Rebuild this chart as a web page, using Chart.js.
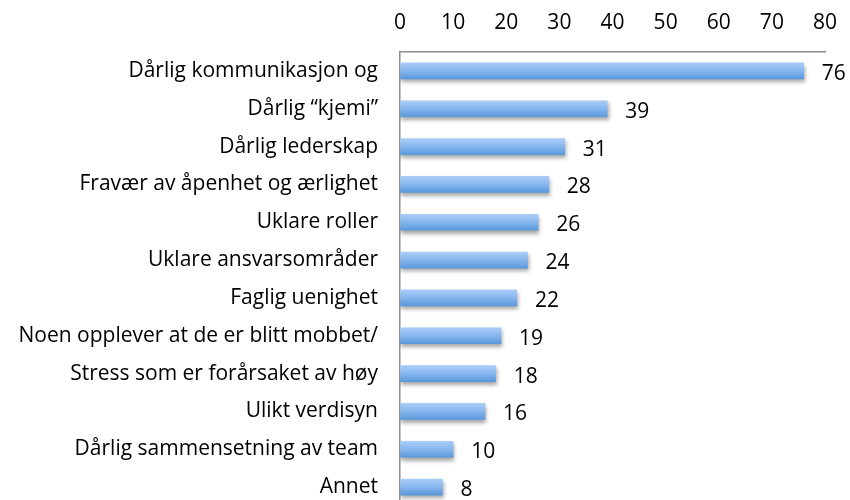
<!DOCTYPE html>
<html>
<head>
<meta charset="utf-8">
<script src="https://cdn.jsdelivr.net/npm/chart.js@4/dist/chart.umd.min.js"></script>
<style>
  html, body { margin: 0; padding: 0; background: #fff; overflow: hidden; }
  #wrap { width: 850px; height: 510px; }
</style>
</head>
<body>
<div id="wrap"><canvas id="chart" width="850" height="510"></canvas></div>
<script>
const categories = [
    'Dårlig kommunikasjon og',
    'Dårlig “kjemi”',
    'Dårlig lederskap',
    'Fravær av åpenhet og ærlighet',
    'Uklare roller',
    'Uklare ansvarsområder',
    'Faglig uenighet',
    'Noen opplever at de er blitt mobbet/',
    'Stress som er forårsaket av høy',
    'Ulikt verdisyn',
    'Dårlig sammensetning av team',
    'Annet'
];
const counts = [76, 39, 31, 28, 26, 24, 22, 19, 18, 16, 10, 8];
const xTicks = [0, 10, 20, 30, 40, 50, 60, 70, 80];

const FONT = '"Open Sans", sans-serif';

// soft shadow under the bars
const shadowPlugin = {
    id: 'barShadow',
    beforeDatasetDraw(chart) {
        const c = chart.ctx;
        c.save();
        c.shadowColor = 'rgba(0,0,0,0.35)';
        c.shadowBlur = 4;
        c.shadowOffsetX = 1;
        c.shadowOffsetY = 3;
    },
    afterDatasetDraw(chart) {
        chart.ctx.restore();
    }
};

// value labels to the right of the bars
const valueLabels = {
    id: 'valueLabels',
    afterDatasetsDraw(chart) {
        const c = chart.ctx;
        const meta = chart.getDatasetMeta(0);
        c.save();
        c.font = '21px ' + FONT;
        c.fillStyle = '#000';
        c.textAlign = 'left';
        c.textBaseline = 'middle';
        meta.data.forEach((bar, i) => {
            c.fillText(String(counts[i]), bar.x + 18, bar.y + 3);
        });
        c.restore();
    }
};

function barGradient(context) {
    const chart = context.chart;
    if (!chart.chartArea) return '#7aaee9';
    const y = chart.scales.y.getPixelForValue(context.dataIndex);
    const g = chart.ctx.createLinearGradient(0, y - 8, 0, y + 8);
    g.addColorStop(0, '#a9cdf7');
    g.addColorStop(0.5, '#86b6ee');
    g.addColorStop(1, '#5a98dc');
    return g;
}

new Chart(document.getElementById('chart'), {
    type: 'bar',
    data: {
        labels: categories,
        datasets: [{
            data: counts,
            backgroundColor: barGradient,
            borderWidth: 0,
            barThickness: 16
        }]
    },
    options: {
        indexAxis: 'y',
        responsive: false,
        animation: false,
        layout: { padding: { left: 0, right: 25, top: 0, bottom: 4 } },
        plugins: {
            legend: { display: false },
            tooltip: { enabled: false }
        },
        scales: {
            x: {
                position: 'top',
                min: 0,
                max: 80,
                afterBuildTicks(scale) {
                    scale.ticks = xTicks.map(v => ({ value: v }));
                },
                afterFit(scale) {
                    scale.height = 52;
                    scale.paddingLeft = 0;
                    scale.paddingRight = 0;
                },
                grid: { display: true, drawOnChartArea: false, drawTicks: false },
                border: { display: true, color: '#8c8c8c', width: 1.5 },
                ticks: {
                    font: { family: FONT, size: 21 },
                    color: '#000',
                    padding: 16,
                    maxRotation: 0
                }
            },
            y: {
                afterFit(scale) {
                    scale.width = 400;
                    scale.paddingTop = 0;
                    scale.paddingBottom = 0;
                },
                grid: { display: true, drawOnChartArea: false, drawTicks: false },
                border: { display: true, color: '#8c8c8c', width: 1.5 },
                ticks: {
                    font: { family: FONT, size: 21 },
                    color: '#000',
                    padding: 22,
                    autoSkip: false
                }
            }
        }
    },
    plugins: [shadowPlugin, valueLabels]
});
</script>
</body>
</html>
